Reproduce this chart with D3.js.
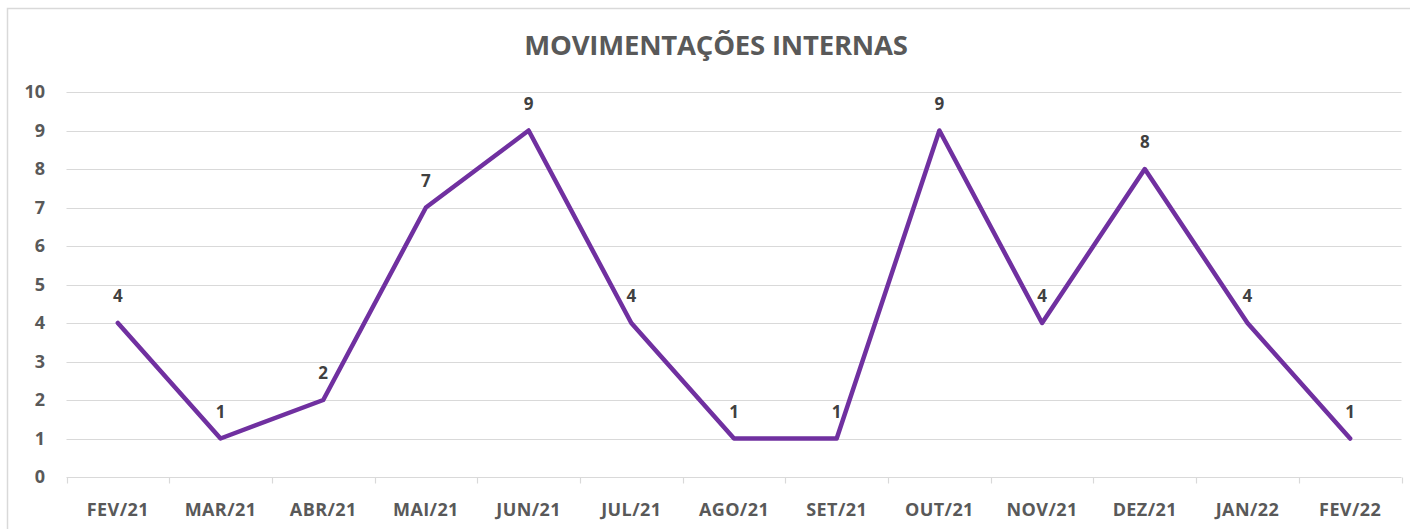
<!DOCTYPE html>
<html>
<head>
<meta charset="utf-8">
<script src="https://cdn.jsdelivr.net/npm/d3@7"></script>
<style>
  html, body { margin: 0; padding: 0; background: #fff; }
  svg { display: block; font-family: "Open Sans", "Liberation Sans", sans-serif; }
</style>
</head>
<body>
<svg id="chart" width="1410" height="529"></svg>
<script>
const title = 'MOVIMENTAÇÕES INTERNAS'
const months = ['FEV/21', 'MAR/21', 'ABR/21', 'MAI/21', 'JUN/21', 'JUL/21', 'AGO/21',
  'SET/21', 'OUT/21', 'NOV/21', 'DEZ/21', 'JAN/22', 'FEV/22']
const values = [4, 1, 2, 7, 9, 4, 1, 1, 9, 4, 8, 4, 1]
const yTicks = [0, 1, 2, 3, 4, 5, 6, 7, 8, 9, 10]

const textColor = '#595959'
const gridColor = '#d9d9d9'
const lineColor = '#7030a0'

const svg = d3.select('#chart')
const margin = { left: 66.5, right: 8.5, top: 92, bottom: 52 }
const width = 1410, height = 529

// chart frame
svg.append('rect')
  .attr('x', 7.5).attr('y', 8.5)
  .attr('width', 1420).attr('height', 540)
  .attr('fill', '#fff')
  .attr('stroke', '#d9d9d9')
  .attr('stroke-width', 1.5)

svg.append('text')
  .attr('x', 716).attr('y', 55)
  .attr('text-anchor', 'middle')
  .attr('fill', textColor)
  .attr('font-size', 27.5)
  .attr('font-weight', 700)
  .attr('letter-spacing', -0.2)
  .text(title)

const x = d3.scaleBand(months, [margin.left, width - margin.right])
const y = d3.scaleLinear([0, 10], [height - margin.bottom, margin.top])

// gridlines
svg.append('g')
  .selectAll('line')
  .data(yTicks.filter(d => d > 0))
  .join('line')
  .attr('x1', margin.left).attr('x2', width - margin.right)
  .attr('y1', d => Math.round(y(d)) + 0.5).attr('y2', d => Math.round(y(d)) + 0.5)
  .attr('stroke', gridColor)
  .attr('stroke-width', 1.2)

// y labels
svg.append('g')
  .selectAll('text')
  .data(yTicks)
  .join('text')
  .attr('x', 45)
  .attr('y', d => y(d))
  .attr('dy', '0.36em')
  .attr('text-anchor', 'end')
  .attr('fill', textColor)
  .attr('font-size', 18)
  .attr('font-weight', 700)
  .text(d => d)

// x axis
const xAxis = svg.append('g')
  .attr('transform', `translate(0,${Math.round(y(0)) + 0.5})`)
xAxis.append('line')
  .attr('x1', margin.left).attr('x2', width - margin.right)
  .attr('stroke', gridColor).attr('stroke-width', 1.2)
xAxis.selectAll('.tick')
  .data(months.map(m => x(m)).concat([x(months[months.length - 1]) + x.bandwidth()]))
  .join('line')
  .attr('class', 'tick')
  .attr('x1', d => Math.round(d) + 0.5).attr('x2', d => Math.round(d) + 0.5)
  .attr('y1', 0).attr('y2', 6)
  .attr('stroke', gridColor).attr('stroke-width', 1.2)
xAxis.selectAll('.label')
  .data(months)
  .join('text')
  .attr('class', 'label')
  .attr('x', d => x(d) + x.bandwidth() / 2)
  .attr('y', 38)
  .attr('text-anchor', 'middle')
  .attr('fill', textColor)
  .attr('font-size', 18)
  .attr('font-weight', 700)
  .attr('letter-spacing', 0.4)
  .text(d => d)

const cx = (d, i) => x(months[i]) + x.bandwidth() / 2

svg.append('path')
  .datum(values)
  .attr('fill', 'none')
  .attr('stroke', lineColor)
  .attr('stroke-width', 4.5)
  .attr('stroke-linejoin', 'round')
  .attr('stroke-linecap', 'round')
  .attr('d', d3.line().x(cx).y(d => y(d)))

svg.append('g')
  .selectAll('text')
  .data(values)
  .join('text')
  .attr('x', cx)
  .attr('y', d => y(d) - 21)
  .attr('text-anchor', 'middle')
  .attr('fill', '#404040')
  .attr('font-size', 17)
  .attr('font-weight', 700)
  .text(d => d)
</script>
</body>
</html>
